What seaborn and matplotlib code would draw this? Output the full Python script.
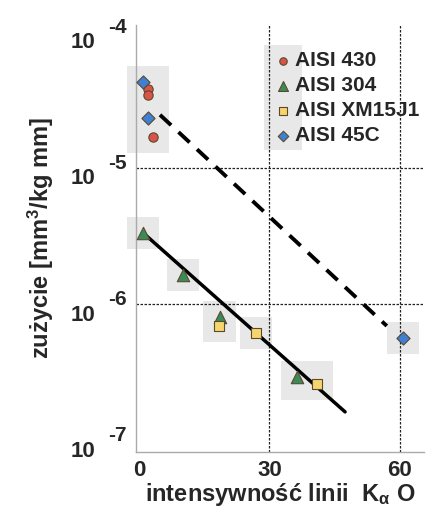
import numpy as np
import pandas as pd
import matplotlib
matplotlib.use("Agg")
import matplotlib.pyplot as plt
from matplotlib.patches import Rectangle
from matplotlib.ticker import FixedLocator, NullFormatter
import seaborn as sns

# ---- data ----
series_names = ["AISI 430", "AISI 304", "AISI XM15J1", "AISI 45C"]
a430_x = [2.1, 2.1, 3.2]
a430_y = [3.81e-5, 3.44e-5, 1.69e-5]
a304_x = [0.9, 10.1, 18.6, 36.3]
a304_y = [3.33e-6, 1.63e-6, 8.0e-7, 2.90e-7]
xm_x = [18.4, 26.9, 40.9]
xm_y = [6.89e-7, 6.12e-7, 2.58e-7]
a45c_x = [0.9, 2.1, 60.7]
a45c_y = [4.28e-5, 2.33e-5, 5.62e-7]
fit_solid_x = [0.9, 47.4]
fit_solid_y = [3.33e-6, 1.61e-7]
fit_dash_x = [4.8, 57.0]
fit_dash_y = [2.45e-5, 6.89e-7]
x_ticks = [0, 30, 60]
y_ticks = [1e-4, 1e-5, 1e-6, 1e-7]
y_exponents = ["-4", "-5", "-6", "-7"]
xlabel = "intensywność linii  K$_{\\alpha}$ O"
ylabel = "zużycie [mm$^{3}$/kg mm]"

sns.set_style("white")
plt.rcParams["font.family"] = ["Liberation Sans", "DejaVu Sans"]
plt.rcParams["font.weight"] = "bold"
plt.rcParams["mathtext.fontset"] = "custom"
plt.rcParams["mathtext.rm"] = "Liberation Sans:bold"
plt.rcParams["mathtext.bf"] = "Liberation Sans:bold"
plt.rcParams["mathtext.it"] = "Liberation Sans:bold"
plt.rcParams["mathtext.sf"] = "Liberation Sans:bold"

df = pd.DataFrame({
    "x": a430_x + a304_x + xm_x + a45c_x,
    "y": a430_y + a304_y + xm_y + a45c_y,
    "s": [series_names[0]] * len(a430_x) + [series_names[1]] * len(a304_x)
         + [series_names[2]] * len(xm_x) + [series_names[3]] * len(a45c_x),
})

palette = {"AISI 430": "#d9534a", "AISI 304": "#3a8a5c",
           "AISI XM15J1": "#f7d56e", "AISI 45C": "#3f7fd4"}
markers = {"AISI 430": "o", "AISI 304": "^", "AISI XM15J1": "s", "AISI 45C": "D"}
sizes = {"AISI 430": 45, "AISI 304": 80, "AISI XM15J1": 60, "AISI 45C": 45}

fig = plt.figure(figsize=(4.28, 5.16), dpi=100)
ax = fig.add_axes([0.318, 0.124, 0.672, 0.828])
ax.set_zorder(2)
ax.set_facecolor("none")
ax.set_yscale("log")
ax.set_xlim(-0.7, 65.5)
ax.set_ylim(10 ** -7.088, 10 ** -3.949)

# grid lines
for yv in [1e-5, 1e-6]:
    ax.axhline(yv, color="#222222", lw=0.9, ls=(0, (2, 1.2)), zorder=1)
for xv in [30, 60]:
    ax.axvline(xv, color="#222222", lw=0.9, ls=(0, (2, 1.2)), zorder=1)

# fit lines
sns.lineplot(x=fit_solid_x, y=fit_solid_y, ax=ax, color="black", lw=2.5,
             zorder=3, legend=False)
sns.lineplot(x=fit_dash_x, y=fit_dash_y, ax=ax, color="black", lw=2.8,
             zorder=3, legend=False)
ax.lines[-1].set_linestyle((0, (3.9, 2.6)))

for name in series_names:
    sub = df[df["s"] == name]
    sns.scatterplot(data=sub, x="x", y="y", ax=ax, color=palette[name],
                    marker=markers[name], s=sizes[name], edgecolor="#5a4a2a",
                    linewidth=0.8, zorder=5, label=name)

# light gray highlight boxes behind the point groups (scan look)
fig.canvas.draw()
groups = [
    (a430_x + a45c_x[:2], a430_y + a45c_y[:2]),
    ([a304_x[0]], [a304_y[0]]),
    ([a304_x[1]], [a304_y[1]]),
    ([a304_x[2], xm_x[0]], [a304_y[2], xm_y[0]]),
    ([xm_x[1]], [xm_y[1]]),
    ([a304_x[3], xm_x[2]], [a304_y[3], xm_y[2]]),
    ([a45c_x[2]], [a45c_y[2]]),
]
inv = fig.transFigure.inverted()
pad = 16
for gx, gy in groups:
    pts = ax.transData.transform(np.column_stack([gx, gy]))
    x0, y0 = pts.min(axis=0) - pad
    x1, y1 = pts.max(axis=0) + pad
    (fx0, fy0), (fx1, fy1) = inv.transform([(x0, y0), (x1, y1)])
    fig.patches.append(Rectangle((fx0, fy0), fx1 - fx0, fy1 - fy0,
                                 transform=fig.transFigure, color="#e8e8e8",
                                 zorder=0, lw=0))
ax.add_patch(Rectangle((0.444, 0.707), 0.132, 0.246, transform=ax.transAxes,
                       color="#e8e8e8", lw=0, zorder=0))

leg = ax.legend(loc="upper left", bbox_to_anchor=(0.445, 0.957), frameon=False,
                fontsize=15, handletextpad=0.1, labelspacing=0.28,
                borderaxespad=0, handlelength=1.0, markerscale=0.8)
for t in leg.get_texts():
    t.set_fontweight("bold")

ax.xaxis.set_major_locator(FixedLocator(x_ticks))
ax.yaxis.set_major_locator(FixedLocator(y_ticks))
ax.yaxis.set_minor_locator(FixedLocator([]))
ax.yaxis.set_major_formatter(NullFormatter())
ax.yaxis.set_minor_formatter(NullFormatter())
ax.tick_params(axis="both", length=0, labelsize=16, pad=6)
for lab in ax.get_xticklabels():
    lab.set_fontweight("bold")

# y tick labels: "10" with a strongly raised exponent
for v, e in zip(y_ticks, y_exponents):
    ax.annotate("10", xy=(0, v), xycoords=("axes fraction", "data"),
                xytext=(-29, -8), textcoords="offset points",
                ha="right", va="center", fontsize=16, fontweight="bold")
    ax.annotate(e, xy=(0, v), xycoords=("axes fraction", "data"),
                xytext=(-7, 3), textcoords="offset points",
                ha="right", va="center", fontsize=15, fontweight="bold")

for s in ["top", "right"]:
    ax.spines[s].set_visible(False)
for s in ["left", "bottom"]:
    ax.spines[s].set_color("#aaaaaa")
    ax.spines[s].set_linewidth(1.0)

ax.set_xlabel(xlabel, fontsize=17, fontweight="bold", labelpad=0)
ax.set_ylabel(ylabel, fontsize=17, fontweight="bold", labelpad=52)

fig.savefig("out.png", dpi=100)
